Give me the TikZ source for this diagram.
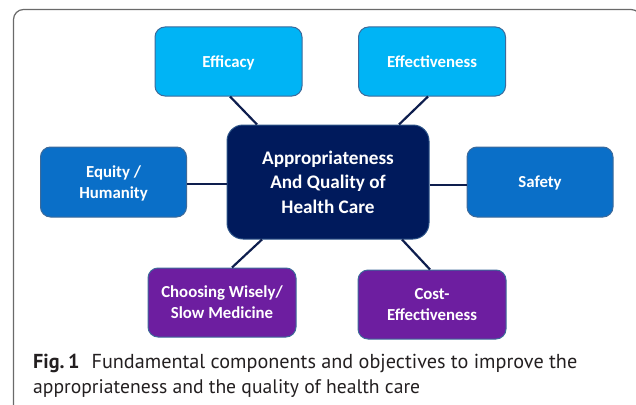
\documentclass[tikz,border=0pt]{standalone}
\usepackage{fontspec}
\setmainfont{Carlito}
\newfontfamily\capfont{PT Sans}
\usepackage{graphicx}
\definecolor{lightbl}{HTML}{00B4F5}
\definecolor{midbl}{HTML}{0A6FC8}
\definecolor{darkbl}{HTML}{001A5C}
\definecolor{purp}{HTML}{6D1EA0}
\definecolor{edge}{HTML}{3D6A9A}
\definecolor{link}{HTML}{0E1E4E}
\definecolor{frame}{HTML}{6A6A6A}
\definecolor{captext}{HTML}{231F20}
\tikzset{
  box/.style={draw=edge, line width=1pt, rounded corners=10pt, text=white,
    font=\bfseries\fontsize{16.8}{21}\selectfont, align=center, inner sep=0pt, text depth=0pt},
  lightbox/.style={box, fill=lightbl, minimum width=147pt, minimum height=69pt},
  midbox/.style={box, fill=midbl, minimum width=146pt, minimum height=70pt},
  purpbox/.style={box, fill=purp, minimum width=148pt, minimum height=69pt},
  hubbox/.style={box, fill=darkbl, draw=edge!70!darkbl, rounded corners=16pt,
    minimum width=202pt, minimum height=114pt, font=\bfseries\fontsize{19.2}{24.5}\selectfont},
  link/.style={draw=link, line width=2.2pt},
  captxt/.style={anchor=base west, inner sep=0pt, text=captext}
}
\begin{document}
\begin{tikzpicture}[x=1pt,y=-1pt]
\useasboundingbox (0,0) rectangle (636,404);
\begin{scope}
\clip (0,0) rectangle (636,404);
\draw[frame, line width=1.2pt, rounded corners=10pt] (13.5,9.5) rectangle (641,430);
\end{scope}
\node[lightbox] (efficacy) at (228.5,61.5) {Efficacy};
\node[lightbox] (effect) at (432,61.5) {Effectiveness};
\node[hubbox] (hub) at (328,182) {Appropriateness\\And Quality of\\Health Care};
\node[midbox] (equity) at (113.5,182) {Equity /\\Humanity};
\node[midbox] (safety) at (540,182) {Safety};
\node[purpbox] (choose) at (222,302.5) {Choosing Wisely/\\Slow Medicine};
\node[purpbox] (cost) at (432,304.5) {Cost-\\Effectiveness};
\draw[link] ([xshift=1.5pt]efficacy.south) -- ([xshift=-71pt]hub.north);
\draw[link] ([xshift=-4pt]effect.south) -- ([xshift=71pt]hub.north);
\draw[link] ([yshift=-2pt]equity.east) -- ([yshift=-2pt]hub.west);
\draw[link] ([yshift=-3pt]hub.east) -- ([yshift=-3pt]safety.west);
\draw[link] ([xshift=10pt]choose.north) -- ([xshift=-66pt]hub.south);
\draw[link] ([xshift=-2pt]cost.north) -- ([xshift=74pt]hub.south);
\node[captxt] (cap1) at (33,368) {\resizebox{544pt}{!}{\capfont\textbf{Fig.\,1}\hspace{0.6em}Fundamental components and objectives to improve the}};
\node[captxt] (cap2) at (33,393) {\resizebox{387pt}{!}{\capfont appropriateness and the quality of health care}};
\end{tikzpicture}
\end{document}
